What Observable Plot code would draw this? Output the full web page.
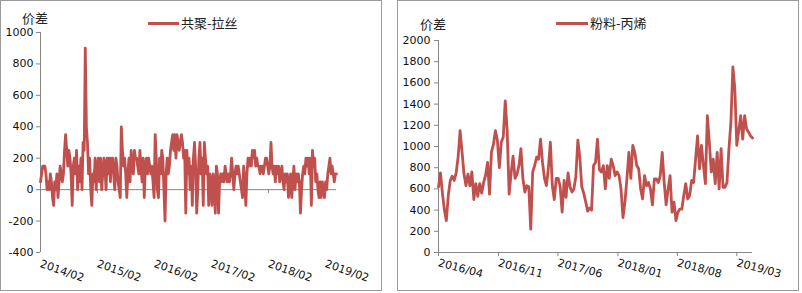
<!DOCTYPE html>
<html><head><meta charset="utf-8">
<script src="https://cdn.jsdelivr.net/npm/d3@7"></script>
<script src="https://cdn.jsdelivr.net/npm/@observablehq/plot@0.6"></script>
<style>
body{margin:0;background:#fff;}
#wrap{position:relative;width:802px;height:293px;overflow:hidden;font-family:"DejaVu Sans",sans-serif;}
.panel{position:absolute;top:0;border:1px solid #9a9a9a;box-sizing:border-box;height:291px;}
.cjk{position:absolute;font-family:"Noto Sans CJK SC",sans-serif;font-size:13px;color:#222;line-height:14px;white-space:nowrap;}
.sw{position:absolute;height:3px;background:#C0504D;}
.chart{position:absolute;top:0;}
</style></head>
<body>
<div id="wrap">
  <div class="panel" style="left:0;width:382px;"></div>
  <div class="panel" style="left:397px;width:402px;"></div>
  <div class="chart" id="c1" style="left:0;"></div>
  <div class="chart" id="c2" style="left:398px;"></div>
  <div class="cjk" id="yl1" style="left:22px;top:11px;"></div>
  <div class="sw" style="left:148px;top:22px;width:31px;"></div>
  <div class="cjk" id="lg1" style="left:181px;top:16px;"></div>
  <div class="cjk" id="yl2" style="left:420px;top:17px;"></div>
  <div class="sw" style="left:556px;top:22px;width:32px;"></div>
  <div class="cjk" id="lg2" style="left:590px;top:16px;"></div>
</div>
<script>
// ---- data ----
const yLabel = "价差";
const leftName = "共聚-拉丝";
const rightName = "粉料-丙烯";
const leftStart = "2014-02-01";   // weekly series
const rightStart = "2016-04-01";  // weekly series
const leftValues = [
  50, 100, 150, 150, 150, 100, 0, 50, 0, 100,
  50, -50, -100, 50, 0, 100, -50, 50, 150, 100,
  50, 100, 250, 350, 250, 150, 250, 200, 100, -100,
  150, 200, 100, 250, 0, 150, 50, 200, 0, 300,
  250, 900, 400, 300, 100, 200, 0, -100, 100, 50,
  200, 0, 150, 200, 50, 200, 0, 100, 200, 150,
  0, 200, 100, 200, 50, 200, 200, 100, 0, 200,
  150, 50, 0, -50, 400, 250, 150, 200, 100, -50,
  100, 200, 50, 250, 150, 100, 250, 200, 200, 150,
  100, 250, 150, 50, 200, -50, 150, 200, 100, 200,
  150, 100, 150, 50, -50, 350, 200, 0, -50, 200,
  100, 250, 200, 0, -200, 100, 200, 100, 150, 250,
  300, 350, 250, 350, 200, 350, 300, 250, 300, 350,
  300, 200, 250,
  -150, 250, 100, 200, 0, 150, -100, 200, 300, 150,
  -150, 0, 200, 300, 100, 200, -100, 300, 200, 100,
  150, -100, 100, 50, -100, 100, 50, -150, 150, 100,
  -150, 50, 100, 50, 100, 50, 150, 100, 50, 100,
  50, 100, 200, 100, 0, 100, 150, 100, 150, 100,
  50, 0, -50, 150, 50, -100, 100, 200, 150, 200,
  150, 250, 200, 250, 150, 200, 150, 150, 100, 150,
  150, 100, 150, 200, 200, 150, 100, 150, 300, 150,
  100, 150, 50, 150, 100, 150, 50, 100, 150, 50,
  0, 100, 50, 100, -50, 50, 100, -50, 50, 150,
  0, 100, 50, 100, 50, -150, 0, 100, 150, 100,
  200, 150, 200, 100, 200, -100, 250, 150, 200, 50,
  100, 0, -50, 50, -50, 50, 0, -50, 50, 0,
  100, 150, 200, 100, 150, 100, 50, 100, 100
];
const rightValues = [
  620, 750, 560, 400, 300, 540, 680, 720, 680, 750,
  900, 1150, 950, 740, 630, 740, 630, 760, 500, 650,
  530, 650, 560, 660, 730, 850, 550, 950, 1020, 1150,
  1060, 800, 1040, 1090, 1430, 1150, 550, 750, 910, 700,
  740, 820, 980, 700, 570, 630, 620, 220, 760, 820,
  900, 880, 1070, 850, 700, 630, 800, 1040, 630, 500,
  700, 700, 620, 380, 680, 520, 750, 620, 570, 600,
  720, 1060, 900, 620, 560, 480, 390, 420, 400, 820,
  850, 1070, 780, 760, 820, 600, 820, 700, 880, 820,
  725, 760, 725, 600, 330, 475, 695, 945, 700, 1010,
  945, 820, 790, 600, 505, 725, 630, 660, 600, 450,
  695, 695, 660, 725, 945, 660, 450, 600, 725, 380,
  475, 300, 380, 410, 410, 540, 650, 505, 540, 680,
  660, 880, 1100, 790, 1010, 820, 650, 1290, 1040, 760,
  880, 650, 945, 600, 980, 615, 615, 660, 980, 1230,
  1750, 1545, 1010, 1150, 1290, 1070, 1290, 1165, 1135, 1100, 1080
];
const leftXTicks = ["2014-02-01","2015-02-01","2016-02-01","2017-02-01","2018-02-01","2019-02-01"];
const rightXTicks = ["2016-04-01","2016-11-01","2017-06-01","2018-01-01","2018-08-01","2019-03-01"];
const leftYTicks = [-400, -200, 0, 200, 400, 600, 800, 1000];
const rightYTicks = [0, 200, 400, 600, 800, 1000, 1200, 1400, 1600, 1800, 2000];

// ---- build ----
const COLOR = "#C0504D";
const AXIS = "#868686";
const fmt = d3.utcFormat("%Y/%m");
const yfmt = d => String(d);
const weekly = (start, vals) => {
  const s = new Date(start + "T00:00:00Z");
  return vals.map((v, i) => ({date: d3.utcDay.offset(s, 7 * i), v}));
};
const L = weekly(leftStart, leftValues);
const R = weekly(rightStart, rightValues);
const lt = leftXTicks.map(d => new Date(d + "T00:00:00Z"));
const rt = rightXTicks.map(d => new Date(d + "T00:00:00Z"));
const style = {fontFamily: "'DejaVu Sans', sans-serif", fontSize: "11px", color: "#111", background: "transparent", overflow: "visible"};

const c1 = Plot.plot({
  width: 381, height: 290,
  marginLeft: 40, marginRight: 45, marginTop: 32, marginBottom: 38,
  style,
  x: {type: "utc", domain: [L[0].date, L[L.length - 1].date]},
  y: {domain: [-400, 1000]},
  marks: [
    Plot.ruleX([L[0].date], {stroke: AXIS}),
    Plot.axisY({ticks: leftYTicks, tickFormat: yfmt, tickSize: 4, tickPadding: 3, stroke: AXIS, fill: "#111", label: null}),
    Plot.ruleY([0], {stroke: AXIS}),
    Plot.ruleX(lt, {x: d => d, y1: 0, y2: 0, insetBottom: -4, stroke: AXIS}),
    Plot.axisX({ticks: lt, tickFormat: fmt, tickSize: 0, tickRotate: 19, tickPadding: 11, fill: "#111", label: null}),
    Plot.line(L, {x: "date", y: "v", stroke: COLOR, strokeWidth: 2.8})
  ]
});
document.getElementById("c1").append(c1);

const c2 = Plot.plot({
  width: 400, height: 290,
  marginLeft: 40, marginRight: 46, marginTop: 40, marginBottom: 38,
  style,
  x: {type: "utc", domain: [R[0].date, R[R.length - 1].date]},
  y: {domain: [0, 2000]},
  marks: [
    Plot.ruleX([R[0].date], {stroke: AXIS}),
    Plot.axisY({ticks: rightYTicks, tickFormat: yfmt, tickSize: 4, tickPadding: 4, stroke: AXIS, fill: "#111", label: null}),
    Plot.ruleY([0], {stroke: AXIS}),
    Plot.axisX({ticks: rt, tickFormat: fmt, tickSize: 4, tickRotate: 15, tickPadding: 6, stroke: AXIS, fill: "#111", label: null}),
    Plot.line(R, {x: "date", y: "v", stroke: COLOR, strokeWidth: 2.8})
  ]
});
document.getElementById("c2").append(c2);

document.getElementById("yl1").textContent = yLabel;
document.getElementById("yl2").textContent = yLabel;
document.getElementById("lg1").textContent = leftName;
document.getElementById("lg2").textContent = rightName;
</script>
</body></html>
